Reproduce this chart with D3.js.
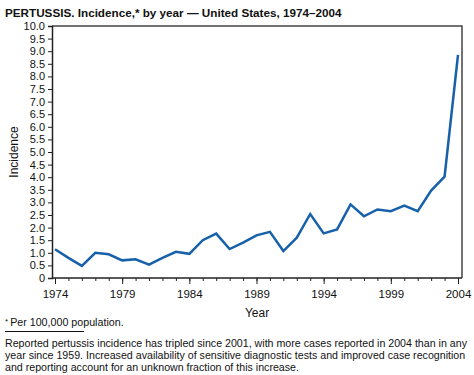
<!DOCTYPE html>
<html>
<head>
<meta charset="utf-8">
<script src="https://cdn.jsdelivr.net/npm/d3@7"></script>
<style>
  body { margin: 0; background: #fff; }
  svg text { font-family: "Liberation Sans", Arial, sans-serif; fill: #111; }
</style>
</head>
<body>
<div id="chart"></div>
<script>
// data
const years = d3.range(1974, 2005)
const incidence = [1.14, 0.8, 0.48, 1.0, 0.94, 0.7, 0.74, 0.53, 0.8, 1.04, 0.96, 1.5, 1.76, 1.15, 1.4, 1.69, 1.83, 1.07, 1.6, 2.54, 1.77, 1.93, 2.92, 2.45, 2.72, 2.65, 2.87, 2.65, 3.47, 4.02, 8.85]
const yTicks = d3.range(0, 10.01, 0.5)
const xMajor = [1974, 1979, 1984, 1989, 1994, 1999, 2004]

const W = 474, H = 375
const margin = {top: 26, right: 12, bottom: 97, left: 52}
const width = W - margin.left - margin.right
const height = H - margin.top - margin.bottom

const svg = d3.select("#chart").append("svg")
    .attr("width", W)
    .attr("height", H)

// title
svg.append("text")
    .attr("x", 5).attr("y", 17)
    .style("font-size", "11.7px")
    .style("font-weight", "bold")
    .text("PERTUSSIS. Incidence,* by year \u2014 United States, 1974\u20132004")

const g = svg.append("g")
    .attr("transform", `translate(${margin.left},${margin.top})`)

const xScale = d3.scaleLinear()
    .domain([1974, 2004])
    .range([3, width - 4])

const yScale = d3.scaleLinear()
    .domain([0, 10])
    .range([height, 0])

// frame (top + right)
g.append("path")
    .attr("d", `M0,0H${width}V${height}`)
    .attr("fill", "none")
    .attr("stroke", "#444")
    .attr("stroke-width", 1.5)

// y axis
const yAx = d3.axisLeft(yScale)
    .tickValues(yTicks)
    .tickSize(4)
    .tickPadding(3)
    .tickFormat(d => d === 0 ? "0" : d3.format(".1f")(d))

g.append("g")
    .attr("class", "y-axis")
    .call(yAx)
    .call(a => a.select(".domain").attr("stroke", "#222").attr("stroke-width", 1.5))
    .call(a => a.selectAll(".tick line").attr("stroke", "#222"))
    .call(a => a.selectAll("text").style("font-size", "11px").attr("fill", "#111"))

// x axis: minor ticks each year, major every 5
const xMinor = d3.axisBottom(xScale)
    .tickValues(years)
    .tickSize(3)
    .tickFormat("")

g.append("g")
    .attr("transform", `translate(0,${height})`)
    .call(xMinor)
    .call(a => a.select(".domain").remove())
    .call(a => a.selectAll(".tick line").attr("stroke", "#222"))

const xAx = d3.axisBottom(xScale)
    .tickValues(xMajor)
    .tickSize(6)
    .tickPadding(6)
    .tickFormat(d3.format("d"))

g.append("g")
    .attr("class", "x-axis")
    .attr("transform", `translate(0,${height})`)
    .call(xAx)
    .call(a => a.select(".domain").attr("d", `M0,0H${width}`).attr("stroke", "#222").attr("stroke-width", 1.5))
    .call(a => a.selectAll(".tick line").attr("stroke", "#222"))
    .call(a => a.selectAll("text").style("font-size", "11.5px").attr("fill", "#111"))

// axis titles
g.append("text")
    .attr("transform", `translate(-34,${height / 2}) rotate(-90)`)
    .attr("text-anchor", "middle")
    .style("font-size", "12px")
    .text("Incidence")

g.append("text")
    .attr("x", width / 2)
    .attr("y", height + 39)
    .attr("text-anchor", "middle")
    .style("font-size", "12px")
    .text("Year")

// line
const line = d3.line()
    .x((d, i) => xScale(years[i]))
    .y(d => yScale(d))

g.append("path")
    .datum(incidence)
    .attr("fill", "none")
    .attr("stroke", "#1760aa")
    .attr("stroke-width", 2.5)
    .attr("stroke-linejoin", "miter")
    .attr("d", line)

// footnotes
svg.append("text")
    .attr("x", 5).attr("y", 325.5)
    .style("font-size", "10.7px")
    .html("<tspan font-size='8px' dy='-2'>*</tspan><tspan dx='2' dy='2'>Per 100,000 population.</tspan>")

svg.append("line")
    .attr("x1", 5).attr("x2", 84)
    .attr("y1", 331.5).attr("y2", 331.5)
    .attr("stroke", "#111")

const notes = [
    "Reported pertussis incidence has tripled since 2001, with more cases reported in 2004 than in any",
    "year since 1959. Increased availability of sensitive diagnostic tests and improved case recognition",
    "and reporting account for an unknown fraction of this increase."
]
svg.selectAll(".note")
    .data(notes)
    .join("text")
    .attr("class", "note")
    .attr("x", 5)
    .attr("y", (d, i) => 346.5 + i * 12.3)
    .style("font-size", "10.65px")
    .text(d => d)
</script>
</body>
</html>
